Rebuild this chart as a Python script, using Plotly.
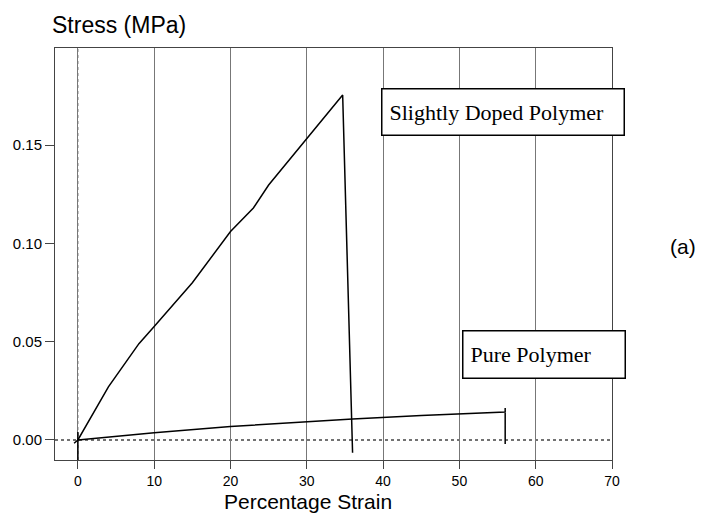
import plotly.graph_objects as go

# Slightly doped polymer stress-strain curve
doped_strain = [-0.5, 0, 4, 8, 10, 15, 20, 23, 25, 30, 34.7, 36.0]
doped_stress = [-0.0017, 0.0, 0.027, 0.049, 0.0577, 0.080, 0.106, 0.118, 0.1297, 0.153, 0.1755, -0.0065]

# Pure polymer stress-strain curve
pure_strain = [0, 5, 10, 20, 30, 36, 45, 50, 56, 56, 56]
pure_stress = [0.0, 0.002, 0.0037, 0.0068, 0.0093, 0.0107, 0.0125, 0.0134, 0.0142, 0.0162, -0.002]

x_ticks = [0, 10, 20, 30, 40, 50, 60, 70]
y_ticks = [0.00, 0.05, 0.10, 0.15]
y_tick_labels = ["0.00", "0.05", "0.10", "0.15"]

fig = go.Figure()
fig.add_trace(go.Scatter(x=doped_strain, y=doped_stress, mode="lines",
                         line=dict(color="black", width=1.5), showlegend=False))
fig.add_trace(go.Scatter(x=pure_strain, y=pure_stress, mode="lines",
                         line=dict(color="black", width=1.5), showlegend=False))

sans = "Liberation Sans, Arial, sans-serif"
serif = "Liberation Serif, Times New Roman, serif"

fig.update_layout(
    width=703, height=513,
    margin=dict(l=55, r=91, t=48, b=53),
    paper_bgcolor="white", plot_bgcolor="white",
    font=dict(family=sans, color="black"),
    xaxis=dict(range=[-3, 70], tickvals=x_ticks, ticks="outside", ticklen=8,
               tickcolor="#444", showgrid=True, gridcolor="#777", gridwidth=1,
               zeroline=False, showline=True, linecolor="#444", linewidth=1,
               mirror=True, tickfont=dict(size=14, family=sans)),
    yaxis=dict(range=[-0.0102, 0.1994], tickvals=y_ticks, ticktext=y_tick_labels,
               ticks="outside", ticklen=9, tickcolor="#444", showgrid=False,
               zeroline=False, showline=True, linecolor="#444", linewidth=1,
               mirror=True, tickfont=dict(size=15, family=sans)),
    shapes=[
        dict(type="line", xref="x", yref="paper", x0=0, x1=0, y0=0, y1=1,
             line=dict(color="#888", width=1.2, dash="dot"), layer="below"),
        dict(type="line", xref="paper", yref="y", x0=0, x1=1, y0=0, y1=0,
             line=dict(color="#444", width=1.5, dash="dot"), layer="below"),
        dict(type="line", xref="x", yref="y", x0=0, x1=0, y0=0.004, y1=-0.0102,
             line=dict(color="black", width=1.5)),
    ],
    annotations=[
        dict(text="Stress (MPa)", xref="paper", yref="paper", x=-0.009, y=1.056,
             xanchor="left", yanchor="middle", showarrow=False,
             font=dict(size=23, family=sans)),
        dict(text="Percentage Strain", xref="paper", yref="paper", x=0.454, y=-0.101,
             xanchor="center", yanchor="middle", showarrow=False,
             font=dict(size=21, family=sans)),
        dict(text="(a)", xref="paper", yref="paper", x=1.127, y=0.519,
             xanchor="center", yanchor="middle", showarrow=False,
             font=dict(size=21, family=sans)),
        dict(text="Slightly Doped Polymer", xref="x", yref="y", x=55.7, y=0.1668,
             xanchor="center", yanchor="middle", showarrow=False,
             width=227, height=31, align="left", bgcolor="white",
             bordercolor="black", borderwidth=1.5, borderpad=7,
             font=dict(size=22, family=serif)),
        dict(text="Pure Polymer", xref="x", yref="y", x=61.1, y=0.0435,
             xanchor="center", yanchor="middle", showarrow=False,
             width=147, height=32, align="left", bgcolor="white",
             bordercolor="black", borderwidth=1.5, borderpad=7,
             font=dict(size=22, family=serif)),
    ],
)

fig.write_html("out.html")
